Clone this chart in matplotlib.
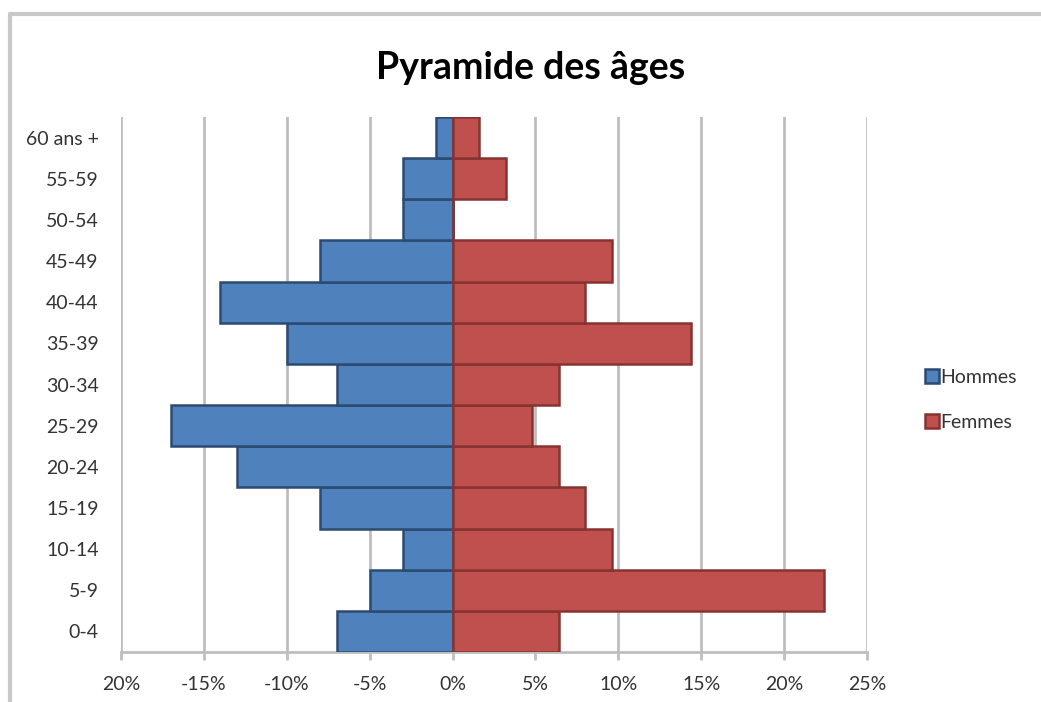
import matplotlib.pyplot as plt
from matplotlib.lines import Line2D
import numpy as np

# data (bottom to top)
ages = ["0-4", "5-9", "10-14", "15-19", "20-24", "25-29", "30-34",
        "35-39", "40-44", "45-49", "50-54", "55-59", "60 ans +"]
hommes = [-7, -5, -3, -8, -13, -17, -7, -10, -14, -8, -3, -3, -1]
femmes = [6.4, 22.4, 9.6, 8.0, 6.4, 4.8, 6.4, 14.4, 8.0, 9.6, 0, 3.2, 1.6]
xticks = [-20, -15, -10, -5, 0, 5, 10, 15, 20, 25]
xtick_labels = ["20%", "-15%", "-10%", "-5%", "0%", "5%", "10%", "15%", "20%", "25%"]

plt.rcParams['font.family'] = ['Lato', 'DejaVu Sans']
txt_col = "#333333"
grid_col = "#BEBEBE"

fig = plt.figure(figsize=(10.41, 7.02), dpi=100)
ax = fig.add_axes([121 / 1041, 1 - 652 / 702, (867 - 121) / 1041, (652 - 117) / 702])

y = np.arange(len(ages))
ax.barh(y, hommes, height=1.0, color="#4F81BD", edgecolor="#2B4B72",
        linewidth=1.8, label="Hommes", zorder=3)
ax.barh(y, femmes, height=1.0, color="#C0504D", edgecolor="#863331",
        linewidth=1.8, label="Femmes", zorder=3)

ax.set_xlim(-20, 25)
ax.set_ylim(-0.5, len(ages) - 0.5)
ax.set_xticks(xticks)
ax.set_xticklabels(xtick_labels, fontsize=14, color=txt_col)
ax.set_yticks(y)
ax.set_yticklabels(ages, fontsize=14, color=txt_col)

ax.grid(axis="x", color=grid_col, linewidth=2, zorder=0)
for s in ["top", "right", "left"]:
    ax.spines[s].set_visible(False)
ax.spines["bottom"].set_color(grid_col)
ax.spines["bottom"].set_linewidth(2)
ax.tick_params(axis="x", length=6, width=2, color=grid_col, pad=11)
ax.tick_params(axis="y", length=0, pad=16)

fig.text(531 / 1041, 1 - 68 / 702, "Pyramide des âges", fontsize=27,
         fontweight="bold", ha="center", va="center", color="black")

fig.legend(loc="center left", bbox_to_anchor=(925 / 1041, 1 - 400 / 702),
           frameon=False, fontsize=14, handlelength=0.7, handleheight=0.7,
           handletextpad=0.1, labelspacing=1.45, labelcolor=txt_col,
           borderpad=0, borderaxespad=0)

# chart border (cropped on right/bottom)
fig.add_artist(Line2D([10 / 1041, 10 / 1041, 1.0], [0.0, 1 - 14 / 702, 1 - 14 / 702],
                      transform=fig.transFigure, color="#C8C8C8", linewidth=3))

fig.savefig("out.png", dpi=100)
